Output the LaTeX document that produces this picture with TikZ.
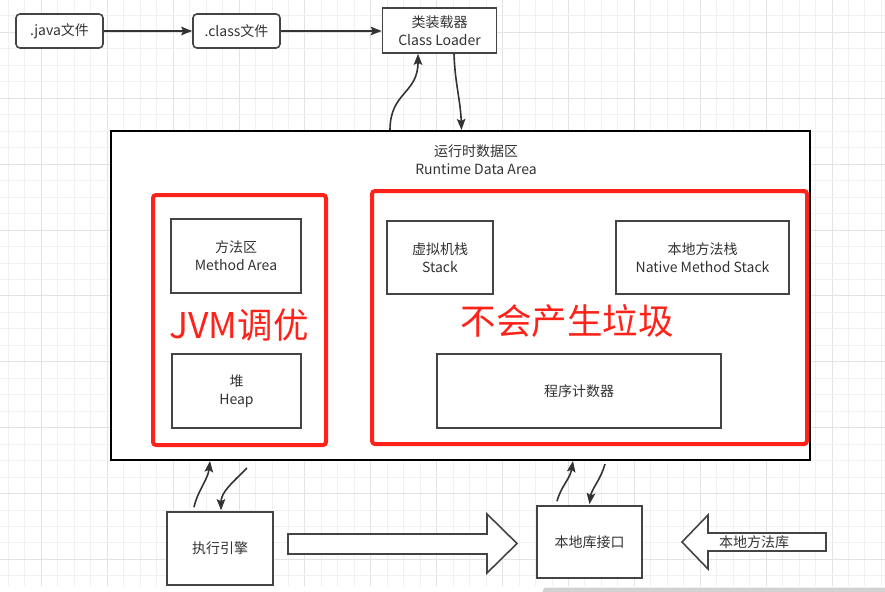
\documentclass[tikz,border=0pt]{standalone}
\usepackage{fontspec}
\setmainfont{Noto Sans CJK SC}
\usetikzlibrary{arrows.meta}
\definecolor{ink}{HTML}{333333}
\definecolor{boxline}{HTML}{444444}
\definecolor{hlred}{RGB}{255,34,25}
\definecolor{gridminor}{HTML}{F1F1F1}
\definecolor{gridmajor}{HTML}{E3E3E3}
\definecolor{scrollbar}{HTML}{D2D2D2}
\begin{document}
\begin{tikzpicture}[x=1pt,y=-1pt,
 box/.style={draw=boxline, line width=1.6pt, fill=white, inner sep=0pt, text=ink, font=\fontsize{14}{18}\selectfont, align=center},
 rbox/.style={box, rounded corners=4pt},
 hl/.style={draw=hlred, line width=4pt, rounded corners=3pt, inner sep=0pt},
 bigred/.style={text=hlred, font=\fontsize{35.5}{40}\selectfont, inner sep=0pt},
 arr/.style={draw=ink, line width=1.6pt, -{Stealth[length=11pt,width=8.5pt,inset=2pt]}},
 hollow/.style={draw=boxline, line width=1.6pt, fill=white, line join=miter},
 lbl/.style={text=ink, font=\fontsize{14}{18}\selectfont, align=center, inner sep=0pt}]
\useasboundingbox (0,0) rectangle (885,591);
\fill[white] (0,0) rectangle (885,591);
% grid
\foreach \k in {0,...,53}{
  \pgfmathsetmacro{\gx}{8.5+16.47*\k}
  \pgfmathtruncatemacro{\m}{mod(\k,4)}
  \ifnum\m=2
    \draw[gridmajor, line width=1pt] (\gx,0) -- (\gx,586);
  \else
    \draw[gridminor, line width=1pt] (\gx,0) -- (\gx,586);
  \fi
}
\foreach \k in {-5,...,29}{
  \pgfmathsetmacro{\gy}{98.3+16.47*\k}
  \pgfmathtruncatemacro{\m}{mod(\k+20,4)}
  \ifnum\m=0
    \draw[gridmajor, line width=1pt] (0,\gy) -- (885,\gy);
  \else
    \draw[gridminor, line width=1pt] (0,\gy) -- (885,\gy);
  \fi
}
\fill[scrollbar, rounded corners=3pt] (543,587.5) rectangle (892,596);

% top row
\node[rbox, minimum width=87pt, minimum height=34pt] (java) at (59.5,31) {.java文件};
\node[rbox, minimum width=87pt, minimum height=34pt] (class) at (236.5,31) {.class文件};
\node[box, minimum width=114pt, minimum height=45pt] (cl) at (439.5,30.5) {类装载器\\Class Loader};

% runtime data area
\node[draw=black, line width=2pt, fill=white, minimum width=699pt, minimum height=329pt, inner sep=0pt] (rt) at (460.5,295.5) {};
\node[lbl] (rtlabel) at (476,160) {运行时数据区\\Runtime Data Area};

\node[hl, minimum width=173pt, minimum height=250pt] (jvm) at (239.5,320) {};
\node[hl, minimum width=435pt, minimum height=253pt] (nogc) at (589.5,317.5) {};

\node[box, minimum width=129.5pt, minimum height=74.5pt] (ma) at (236,256) {方法区\\Method Area};
\node[box, minimum width=129pt, minimum height=74pt] (heap) at (236.5,391) {堆\\Heap};
\node[box, minimum width=106pt, minimum height=73pt] (stack) at (440,257.5) {虚拟机栈\\Stack};
\node[box, minimum width=173pt, minimum height=73pt] (nms) at (702.5,257.5) {本地方法栈\\Native Method Stack};
\node[box, minimum width=284pt, minimum height=74pt] (pc) at (579,391) {程序计数器};

\node[bigred] (jvmtxt) at (239,325) {JVM调优};
\node[bigred] (nogctxt) at (567,321) {不会产生垃圾};

% bottom row
\node[box, minimum width=106pt, minimum height=73pt] (exe) at (220,548.5) {执行引擎};
\node[box, minimum width=105pt, minimum height=72pt] (nli) at (589.5,542) {本地库接口};

\draw[hollow] (288,534) -- (487,534) -- (487,514) -- (517,543.5) -- (487,573) -- (487,554) -- (288,554) -- cycle;
\draw[hollow] (826,533) -- (708,533) -- (708,515) -- (682,542) -- (708,569) -- (708,551) -- (826,551) -- cycle;
\node[lbl] (nml) at (754,542) {本地方法库};

% connectors
\draw[arr] (java) -- (class);
\draw[arr] (class.east) -- (cl.west |- class.east);
\draw[arr] ([xshift=-70.5pt]rt.north) .. controls +(0,-38) and +(0,40) .. ([xshift=-21.5pt]cl.south);
\draw[arr] ([xshift=14.5pt]cl.south) .. controls +(1,30) and +(-1,-30) .. ([xshift=1pt]rt.north);
\draw[arr] ([xshift=-26pt,yshift=4pt]exe.north) .. controls +(3,-15) and +(-2,18) .. ([xshift=-250.5pt]rt.south);
\draw[arr] ([xshift=-213.5pt,yshift=-7pt]rt.south) .. controls +(-14,14) and +(0,-18) .. ([xshift=1pt,yshift=1pt]exe.north);
\draw[arr] ([xshift=-32.5pt,yshift=4pt]nli.north) .. controls +(4,-15) and +(-3,18) .. ([xshift=112.5pt]rt.south);
\draw[arr] ([xshift=144.5pt,yshift=-3pt]rt.south) .. controls +(-4,15) and +(2,-15) .. ([yshift=1pt]nli.north);
\end{tikzpicture}
\end{document}
